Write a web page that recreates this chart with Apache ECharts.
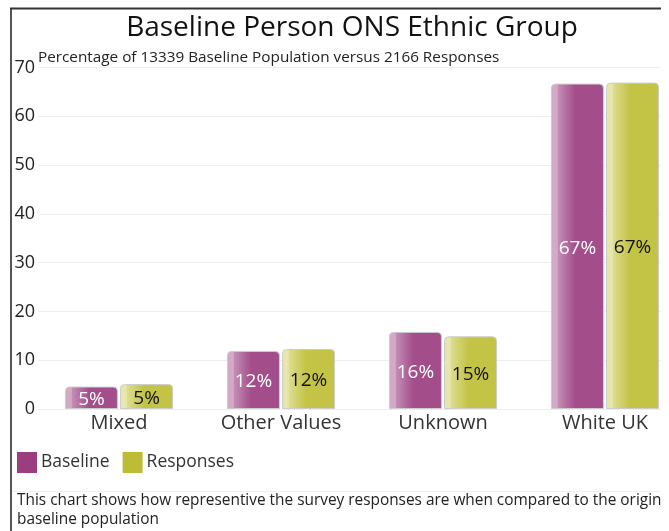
<!DOCTYPE html>
<html>
<head>
<meta charset="utf-8">
<script src="https://cdn.jsdelivr.net/npm/echarts@6/dist/echarts.min.js"></script>
<style>
html,body{margin:0;padding:0;background:#fff;overflow:hidden;}
#clip{position:absolute;left:0;top:0;width:661px;height:531px;overflow:hidden;}
#chart{width:700px;height:531px;}
</style>
</head>
<body>
<div id="clip"><div id="chart"></div></div>
<script>
const categories = ['Mixed', 'Other Values', 'Unknown', 'White UK'];
const baselineValues = [4.6, 11.9, 15.8, 66.7];
const responseValues = [5.1, 12.3, 14.9, 66.9];
const seriesNames = ['Baseline', 'Responses'];
const titleText = 'Baseline Person ONS Ethnic Group';
const subtitleText = 'Percentage of 13339 Baseline Population versus 2166 Responses';
const footerLines = ['This chart shows how representive the survey responses are when compared to the original', 'baseline population'];

const FONT = '"Open Sans", "Noto Sans", sans-serif';
const purple = '#9b3d7f';
const olive = '#bdbd35';

function grad(light, mid, base) {
  return new echarts.graphic.LinearGradient(0, 0, 1, 0, [
    {offset: 0, color: light},
    {offset: 0.12, color: light},
    {offset: 0.14, color: mid},
    {offset: 0.46, color: base},
    {offset: 0.48, color: base},
    {offset: 1, color: base}
  ]);
}

const chart = echarts.init(document.getElementById('chart'), null, {renderer: 'canvas'});
chart.setOption({
  animation: false,
  textStyle: {fontFamily: FONT},
  grid: {left: 38, right: 14, top: 67.5, bottom: 122, containLabel: false},
  legend: {
    left: 17, top: 452, padding: 0,
    itemWidth: 20, itemHeight: 21, itemGap: 13,
    icon: 'rect',
    textStyle: {fontSize: 17.5, color: '#333', fontFamily: FONT, padding: [0, 0, 0, -1]},
    data: [
      {name: seriesNames[0], itemStyle: {color: purple, borderWidth: 0}},
      {name: seriesNames[1], itemStyle: {color: olive, borderWidth: 0}}
    ]
  },
  xAxis: {
    type: 'category',
    data: categories,
    axisTick: {show: false},
    axisLine: {show: true, lineStyle: {color: '#eeeeee'}},
    axisLabel: {fontSize: 20, color: '#333', margin: 4, fontFamily: FONT}
  },
  yAxis: {
    type: 'value',
    min: 0, max: 70, interval: 10,
    axisLine: {show: false},
    axisTick: {show: false},
    splitLine: {lineStyle: {color: '#eeeeee'}},
    axisLabel: {fontSize: 18, color: '#222', margin: 3, fontFamily: FONT}
  },
  series: [
    {
      name: seriesNames[0], type: 'bar', data: baselineValues,
      barWidth: 53, barGap: '4%',
      itemStyle: {color: grad('#d3a9c6', '#c38cb4', '#a34e8b'), borderRadius: [4, 4, 0, 0], borderColor: '#cccccc', borderWidth: 1},
      label: {show: true, position: 'inside', fontSize: 19, color: '#fff', fontFamily: FONT, offset: [0, 2],
        formatter: p => Math.round(p.value) + '%'}
    },
    {
      name: seriesNames[1], type: 'bar', data: responseValues,
      barWidth: 53,
      itemStyle: {color: grad('#e6e6ad', '#dcdc8e', '#c3c345'), borderRadius: [4, 4, 0, 0], borderColor: '#cccccc', borderWidth: 1},
      label: {show: true, position: 'inside', fontSize: 19, color: '#111', fontFamily: FONT, offset: [0, 2],
        formatter: p => Math.round(p.value) + '%'}
    }
  ],
  graphic: [
    {type: 'text', x: 352, y: 28, style: {text: titleText, font: '28px ' + FONT, fill: '#111', textAlign: 'center', textVerticalAlign: 'middle'}},
    {type: 'text', x: 38, y: 58, style: {text: subtitleText, font: '15.3px ' + FONT, fill: '#222', textAlign: 'left', textVerticalAlign: 'middle'}},
    {type: 'line', shape: {x1: 10, y1: 491.5, x2: 700, y2: 491.5}, style: {stroke: '#eeeeee', lineWidth: 1}},
    {type: 'text', x: 17, y: 501, style: {text: footerLines[0], font: '15.4px ' + FONT, fill: '#222', textVerticalAlign: 'middle'}},
    {type: 'text', x: 17, y: 520, style: {text: footerLines[1], font: '15.4px ' + FONT, fill: '#222', textVerticalAlign: 'middle'}},
    {type: 'line', shape: {x1: 11, y1: 8, x2: 11, y2: 531}, style: {stroke: '#555', lineWidth: 2}, z: 100},
    {type: 'line', shape: {x1: 10, y1: 8.5, x2: 700, y2: 8.5}, style: {stroke: '#333', lineWidth: 2}, z: 100}
  ]
});
</script>
</body>
</html>
